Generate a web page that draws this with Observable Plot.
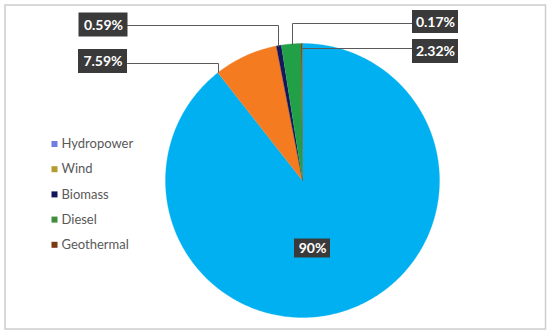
<!DOCTYPE html>
<html><head><meta charset="utf-8">
<script src="https://cdn.jsdelivr.net/npm/d3@7"></script>
<script src="https://cdn.jsdelivr.net/npm/@observablehq/plot@0.6"></script>
<style>
html,body{margin:0;padding:0;background:#fff;}
#chart svg{display:block;}
g[aria-label="shadow"]{filter:drop-shadow(0px 0px 6px rgba(0,0,0,0.25));}
g[aria-label="boxes"]{filter:drop-shadow(2px 2px 1.5px rgba(0,0,0,0.35));}
</style></head><body><div id="chart"></div>
<script>
// ---- data ----
const sources = ["Hydropower", "Wind", "Biomass", "Diesel", "Geothermal"];
const shares = [90, 7.59, 0.59, 2.32, 0.17];
const sliceColors = ["#00B0F0", "#F47B20", "#16165C", "#22A047", "#7B3A12"];
const legendColors = ["#6E7EE6", "#B59C2E", "#14145A", "#3E8E3E", "#7A3A10"];
const labelTexts = ["90%", "7.59%", "0.59%", "2.32%", "0.17%"];

// ---- layout ----
const W = 550, H = 334;
const cx = 302, cy = 180, R = 137;
const boxes = [
  {cx: 312, cy: 248, w: 36, h: 19},
  {cx: 102.5, cy: 61, w: 49, h: 24},
  {cx: 103, cy: 24.5, w: 49, h: 24},
  {cx: 435, cy: 51, w: 46, h: 24},
  {cx: 435, cy: 21.5, w: 46, h: 23}
];
const leaders = [
  null,
  [[127, 63], [218, 63], [218, 72]],
  [[127, 25], [278, 25], [278, 46]],
  [[412, 48], [302, 48]],
  [[412, 23], [292, 23], [292, 44]]
];

// ---- pie geometry via d3.pie ----
const arcs = d3.pie().sort(null).value(d => d.v)(sources.map((s, i) => ({s, v: shares[i], c: sliceColors[i]})));
const piePts = [];
arcs.forEach((a, idx) => {
  const n = Math.max(2, Math.ceil((a.endAngle - a.startAngle) / 0.01));
  piePts.push({k: idx, c: a.data.c, x: cx, y: cy});
  for (let j = 0; j <= n; j++) {
    const t = a.startAngle + (a.endAngle - a.startAngle) * j / n;
    piePts.push({k: idx, c: a.data.c, x: cx + R * Math.sin(t), y: cy - R * Math.cos(t)});
  }
});

const leaderPts = [];
leaders.forEach((l, i) => { if (l) l.forEach(p => leaderPts.push({id: i, x: p[0], y: p[1]})); });

const labelData = labelTexts.map((t, i) => ({t, ...boxes[i]}));
const legendData = sources.map((s, i) => ({s, c: legendColors[i], y: 143.5 + i * 25.2}));

const sliceMarks = arcs.map((a, idx) =>
  Plot.line(piePts.filter(p => p.k === idx), {x: "x", y: "y", fill: a.data.c, stroke: a.data.c, strokeWidth: 0.3})
);

const chart = Plot.plot({
  width: W, height: H,
  marginTop: 0, marginRight: 0, marginBottom: 0, marginLeft: 0,
  x: {type: "identity", axis: null},
  y: {type: "identity", axis: null},
  color: {type: "identity"},
  style: {background: "#fff", fontFamily: "Lato, 'Open Sans', sans-serif"},
  marks: [
    Plot.frame({stroke: "#cdcdcd", strokeWidth: 1.5, insetLeft: 4.5, insetTop: 4.5, insetRight: 5, insetBottom: 5.5}),
    Plot.dot([0], {x: cx, y: cy, r: R - 1, fill: "#ffffff", stroke: null, ariaLabel: "shadow"}),
    ...sliceMarks,
    Plot.line(leaderPts, {x: "x", y: "y", z: "id", stroke: "#5a5a5a", strokeWidth: 1}),
    Plot.rect(labelData, {x1: d => d.cx - d.w / 2, x2: d => d.cx + d.w / 2, y1: d => d.cy - d.h / 2, y2: d => d.cy + d.h / 2, fill: "#3a3a3a", ariaLabel: "boxes"}),
    Plot.text(labelData, {x: "cx", y: "cy", text: "t", fill: "white", fontWeight: "bold", fontSize: 14, dy: 0.5}),
    Plot.dot(legendData, {x: 54, y: "y", symbol: "square", r: 3.4, fill: "c", stroke: null}),
    Plot.text(legendData, {x: 61, y: "y", text: "s", textAnchor: "start", fill: "#595959", fontSize: 13})
  ]
});
document.getElementById("chart").appendChild(chart);
</script>
</body></html>
